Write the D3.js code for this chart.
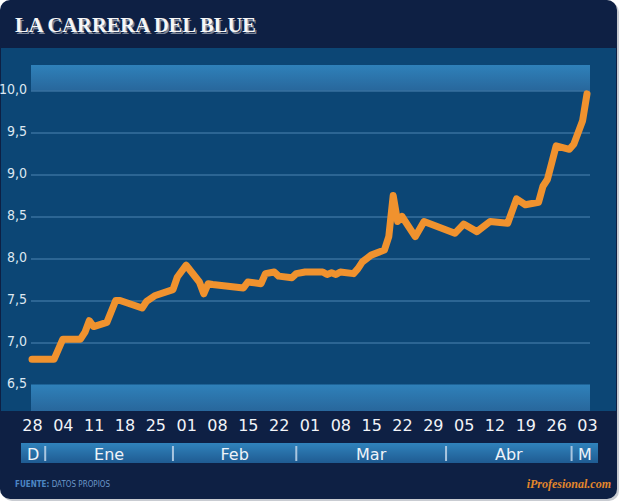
<!DOCTYPE html>
<html><head><meta charset="utf-8">
<script src="https://cdn.jsdelivr.net/npm/d3@7"></script>
<style>body{margin:0;background:#fff}svg{display:block}</style>
</head><body>
<script>
// ---- data ----
const title = "LA CARRERA DEL BLUE";
const dates = ["2012-12-28","2013-01-02","2013-01-04","2013-01-08","2013-01-09","2013-01-10","2013-01-11","2013-01-14","2013-01-16","2013-01-17","2013-01-22","2013-01-23","2013-01-25","2013-01-29","2013-01-30","2013-02-01","2013-02-04","2013-02-05","2013-02-06","2013-02-07","2013-02-12","2013-02-14","2013-02-15","2013-02-18","2013-02-19","2013-02-21","2013-02-22","2013-02-25","2013-02-26","2013-02-28","2013-03-04","2013-03-05","2013-03-06","2013-03-07","2013-03-08","2013-03-11","2013-03-12","2013-03-13","2013-03-15","2013-03-18","2013-03-19","2013-03-20","2013-03-21","2013-03-22","2013-03-25","2013-03-27","2013-04-03","2013-04-05","2013-04-08","2013-04-11","2013-04-15","2013-04-17","2013-04-19","2013-04-22","2013-04-23","2013-04-24","2013-04-26","2013-04-29","2013-04-30","2013-05-02","2013-05-03"];
const values = [6.80,6.80,7.04,7.04,7.12,7.26,7.19,7.24,7.50,7.50,7.41,7.49,7.56,7.63,7.78,7.92,7.72,7.58,7.70,7.69,7.66,7.65,7.72,7.70,7.82,7.84,7.79,7.77,7.82,7.84,7.84,7.81,7.83,7.81,7.84,7.82,7.88,7.96,8.04,8.10,8.26,8.75,8.44,8.50,8.26,8.44,8.30,8.41,8.32,8.44,8.42,8.71,8.64,8.67,8.86,8.94,9.34,9.30,9.36,9.64,9.96];
const yTicks = [6.5,7.0,7.5,8.0,8.5,9.0,9.5,10.0];
const xTickDates = ["2012-12-28","2013-01-04","2013-01-11","2013-01-18","2013-01-25","2013-02-01","2013-02-08","2013-02-15","2013-02-22","2013-03-01","2013-03-08","2013-03-15","2013-03-22","2013-03-29","2013-04-05","2013-04-12","2013-04-19","2013-04-26","2013-05-03"];
const xTickLabels = ["28","04","11","18","25","01","08","15","22","01","08","15","22","29","05","12","19","26","03"];
const monthLabels = ["D","Ene","Feb","Mar","Abr","M"];
const monthBounds = ["2012-12-25T12:00","2012-12-31","2013-01-29","2013-02-26","2013-04-01","2013-04-29T12:00","2013-05-05T12:00"];
const sourceLabel = "FUENTE:";
const sourceText = "DATOS PROPIOS";
const brand = "iProfesional.com";

// ---- drawing ----
const W = 621, H = 502;
const parse = s => new Date(s + (s.length === 10 ? "T00:00:00Z" : ":00Z"));
const series = dates.map((d, i) => ({date: parse(d), value: values[i]}));

const svg = d3.select("body").append("svg").attr("width", W).attr("height", H);
const defs = svg.append("defs");
const g1 = defs.append("linearGradient").attr("id","band").attr("x1",0).attr("y1",0).attr("x2",0).attr("y2",1);
g1.append("stop").attr("offset","0%").attr("stop-color","#2f81ba");
g1.append("stop").attr("offset","100%").attr("stop-color","#28679c");
const g2 = defs.append("linearGradient").attr("id","mbar").attr("x1",0).attr("y1",0).attr("x2",0).attr("y2",1);
g2.append("stop").attr("offset","0%").attr("stop-color","#3083bc");
g2.append("stop").attr("offset","100%").attr("stop-color","#1f5b92");

// outer panel
svg.append("rect").attr("x",2).attr("y",2).attr("width",617).attr("height",499).attr("rx",10).attr("fill","#c9ccd2");
svg.append("rect").attr("x",0).attr("y",0).attr("width",617).attr("height",499).attr("rx",10).attr("fill","#0e2044");
// plot panel
svg.append("rect").attr("x",1).attr("y",48).attr("width",615).attr("height",363).attr("fill","#0c4675");

const x = d3.scaleUtc().domain([parse("2012-12-28"), parse("2013-05-03")]).range([32, 587]);
const y = d3.scaleLinear().domain([6.5, 10]).range([384.5, 90.5]);
const left = 31, right = 590;

// bands
svg.append("rect").attr("x",left).attr("y",65).attr("width",right-left).attr("height",y(10)-65).attr("fill","url(#band)");
svg.append("rect").attr("x",left).attr("y",y(6.5)).attr("width",right-left).attr("height",411-y(6.5)).attr("fill","url(#band)");

// y axis with gridlines
const yAxis = d3.axisLeft(y).tickValues(yTicks)
  .tickFormat(d => d3.format(".1f")(d).replace(".", ","))
  .tickSize(-(right-left)).tickPadding(4);
const ya = svg.append("g").attr("transform", `translate(${left},0)`).call(yAxis);
ya.select(".domain").remove();
ya.selectAll(".tick line").attr("stroke","#4d84b3").attr("stroke-width",1)
  .attr("opacity", d => d === 6.5 ? 0 : 1);
ya.selectAll(".tick text").attr("fill","#dde7f1").attr("font-family","DejaVu Sans Condensed, DejaVu Sans, sans-serif")
  .attr("font-size",14).attr("dy","0.24em");

// x axis
const xAxis = d3.axisBottom(x).tickValues(xTickDates.map(parse))
  .tickFormat((d, i) => xTickLabels[i]).tickSize(0).tickPadding(9);
const xa = svg.append("g").attr("transform","translate(0,411)").call(xAxis);
xa.select(".domain").remove();
xa.selectAll(".tick text").attr("fill","#f2f4f8").attr("font-family","DejaVu Sans, sans-serif").attr("font-size",16);

// line
svg.append("path").datum(series)
  .attr("d", d3.line().x(d => x(d.date)).y(d => y(d.value)))
  .attr("fill","none").attr("stroke","#f0922e").attr("stroke-width",7)
  .attr("stroke-linejoin","round").attr("stroke-linecap","round");

// month bar
const mb = monthBounds.map(parse);
svg.append("rect").attr("x", x(mb[0])).attr("y",443).attr("width", x(mb[mb.length-1]) - x(mb[0])).attr("height",20).attr("fill","url(#mbar)");
svg.append("g").selectAll("line").data(mb.slice(1, -1)).join("line")
  .attr("x1", d => x(d)).attr("x2", d => x(d)).attr("y1",446).attr("y2",461)
  .attr("stroke","#a9c6e0").attr("stroke-width",2);
svg.append("g").selectAll("text").data(monthLabels).join("text")
  .attr("x", (d, i) => (x(mb[i]) + x(mb[i+1])) / 2).attr("y",460)
  .attr("text-anchor","middle").attr("fill","#eef3f9")
  .attr("font-family","DejaVu Sans, sans-serif").attr("font-size",16).text(d => d);

// title
svg.append("text").attr("x",16.5).attr("y",33.5).attr("fill","#7d8799")
  .attr("font-family","Liberation Serif, Times New Roman, serif").attr("font-weight","bold").attr("font-size",20.5).text(title);
svg.append("text").attr("x",15).attr("y",32).attr("fill","#f6f6f6")
  .attr("font-family","Liberation Serif, Times New Roman, serif").attr("font-weight","bold").attr("font-size",20.5).text(title);

// footer
const ft = svg.append("text").attr("x",15).attr("y",487)
  .attr("font-family","DejaVu Sans Condensed, DejaVu Sans, sans-serif").attr("font-size",8);
ft.append("tspan").attr("font-weight","bold").attr("fill","#4c86c4").text(sourceLabel);
ft.append("tspan").attr("fill","#6b97c9").text(" " + sourceText);

svg.append("text").attr("x",611).attr("y",488).attr("text-anchor","end")
  .attr("font-family","Liberation Serif, Times New Roman, serif").attr("font-style","italic").attr("font-weight","bold")
  .attr("font-size",12).attr("fill","#e3872b").text(brand);
</script>
</body></html>
